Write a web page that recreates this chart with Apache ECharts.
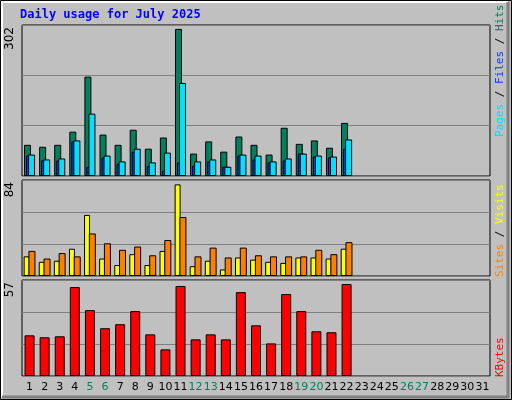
<!DOCTYPE html>
<html>
<head>
<meta charset="utf-8">
<script src="https://cdn.jsdelivr.net/npm/echarts@6/dist/echarts.min.js"></script>
<style>html,body{margin:0;padding:0;background:#c0c0c0}#main{width:512px;height:400px}</style>
</head>
<body>
<div id="main"></div>
<script>
// values
const days = ['1','2','3','4','5','6','7','8','9','10','11','12','13','14','15','16','17','18','19','20','21','22','23','24','25','26','27','28','29','30','31'];
const weekend = ['5','6','12','13','19','20','26','27'];
const hits   = [64,60,64,91,204,85,64,95,56,79,302,46,71,50,81,64,44,99,66,73,58,109];
const files  = [42,32,32,71,19,38,25,50,21,11,28,21,30,19,42,34,28,32,46,40,38,56];
const pages  = [44,34,36,73,128,42,30,56,28,48,191,30,34,19,44,42,30,36,46,42,40,75];
const visits = [18,13,14,25,56,16,10,20,10,23,84,9,14,6,17,15,13,12,17,17,16,25];
const sites  = [23,16,21,18,39,30,24,27,19,33,54,18,26,17,26,19,18,18,18,24,20,31];
const kbytes = [25.2,24,24.6,55.1,40.8,29.6,32.1,40.2,25.8,16.5,55.8,22.7,25.8,22.7,52,31.4,20.2,50.8,40.2,27.7,27.1,57];
const maxLabels = ['302','84','57'];

const chart = echarts.init(document.getElementById('main'));
const font = 'DejaVu Sans';
const panels = [
    {top: 25, height: 151, max: 310},
    {top: 180, height: 96, max: 88},
    {top: 280, height: 96, max: 59.5}
];
const bar = (data, color, idx, width, gap, name) => ({
    type: 'bar', name: name, data: data, xAxisIndex: idx, yAxisIndex: idx,
    barWidth: width, barGap: gap, animation: false,
    itemStyle: {color: color, borderColor: '#000', borderWidth: 1}
});

chart.setOption({
    backgroundColor: '#c0c0c0',
    grid: panels.map(p => ({left: 22, width: 468, top: p.top, height: p.height,
        show: true, borderColor: '#000', borderWidth: 1, backgroundColor: '#c0c0c0'})),
    xAxis: panels.map((p, i) => ({
        type: 'category', gridIndex: i, data: days,
        axisLine: {show: false}, axisTick: {show: false},
        axisLabel: i === 2 ? {
            show: true, margin: 6, fontFamily: font, fontSize: 11, interval: 0,
            color: v => weekend.includes(v) ? '#00805c' : '#000'
        } : {show: false}
    })),
    yAxis: panels.map((p, i) => ({
        type: 'value', gridIndex: i, min: 0, max: p.max, interval: p.max / 3,
        axisLabel: {show: false}, axisLine: {show: false}, axisTick: {show: false},
        splitLine: {lineStyle: {color: '#808080', width: 1}}
    })),
    series: [
        bar(hits, '#00805c', 0, 7, '-71%', 'Hits'),
        bar(files, '#0040ff', 0, 7, '-71%', 'Files'),
        bar(pages, '#00e0ff', 0, 7, '-71%', 'Pages'),
        bar(visits, '#ffff00', 1, 6, '-20%', 'Visits'),
        bar(sites, '#ff8000', 1, 7, '-20%', 'Sites'),
        bar(kbytes, '#ff0000', 2, 10, '0%', 'KBytes')
    ],
    graphic: [
        {type: 'rect', shape: {x: 0.5, y: 0.5, width: 511, height: 399}, silent: true,
            style: {fill: 'none', stroke: '#000', lineWidth: 1}},
        {type: 'polyline', shape: {points: [[2, 397], [2, 2], [508, 2]]}, silent: true,
            style: {stroke: '#fff', lineWidth: 2, fill: 'none'}},
        {type: 'polyline', shape: {points: [[2, 397], [508, 397], [508, 2]]}, silent: true,
            style: {stroke: '#808080', lineWidth: 3, fill: 'none'}},
        {type: 'text', x: 20, y: 9, style: {text: 'Daily usage for July 2025', fill: '#0000ff',
            font: 'bold 12px "DejaVu Sans Mono"'}},
        ...panels.map((p, i) => ({type: 'text', x: 10, y: p.top + 2, rotation: Math.PI / 2,
            style: {text: maxLabels[i], fill: '#000', font: '12px "DejaVu Sans"',
                align: 'right', verticalAlign: 'middle'}})),
        {type: 'text', x: 500, y: 137, rotation: Math.PI / 2, style: {
            text: '{p|Pages} {k|/} {f|Files} {k|/} {h|Hits}', align: 'left', verticalAlign: 'middle',
            font: '11px "DejaVu Sans Mono"',
            rich: {p: {fill: '#00e0ff'}, f: {fill: '#0040ff'}, h: {fill: '#00805c'}, k: {fill: '#000'}}}},
        {type: 'text', x: 500, y: 277, rotation: Math.PI / 2, style: {
            text: '{s|Sites} {k|/} {v|Visits}', align: 'left', verticalAlign: 'middle',
            font: '11px "DejaVu Sans Mono"',
            rich: {s: {fill: '#ff8000'}, v: {fill: '#ffff00'}, k: {fill: '#000'}}}},
        {type: 'text', x: 500, y: 377, rotation: Math.PI / 2, style: {
            text: 'KBytes', align: 'left', verticalAlign: 'middle', fill: '#ff0000',
            font: '11px "DejaVu Sans Mono"'}}
    ]
});
</script>
</body>
</html>
